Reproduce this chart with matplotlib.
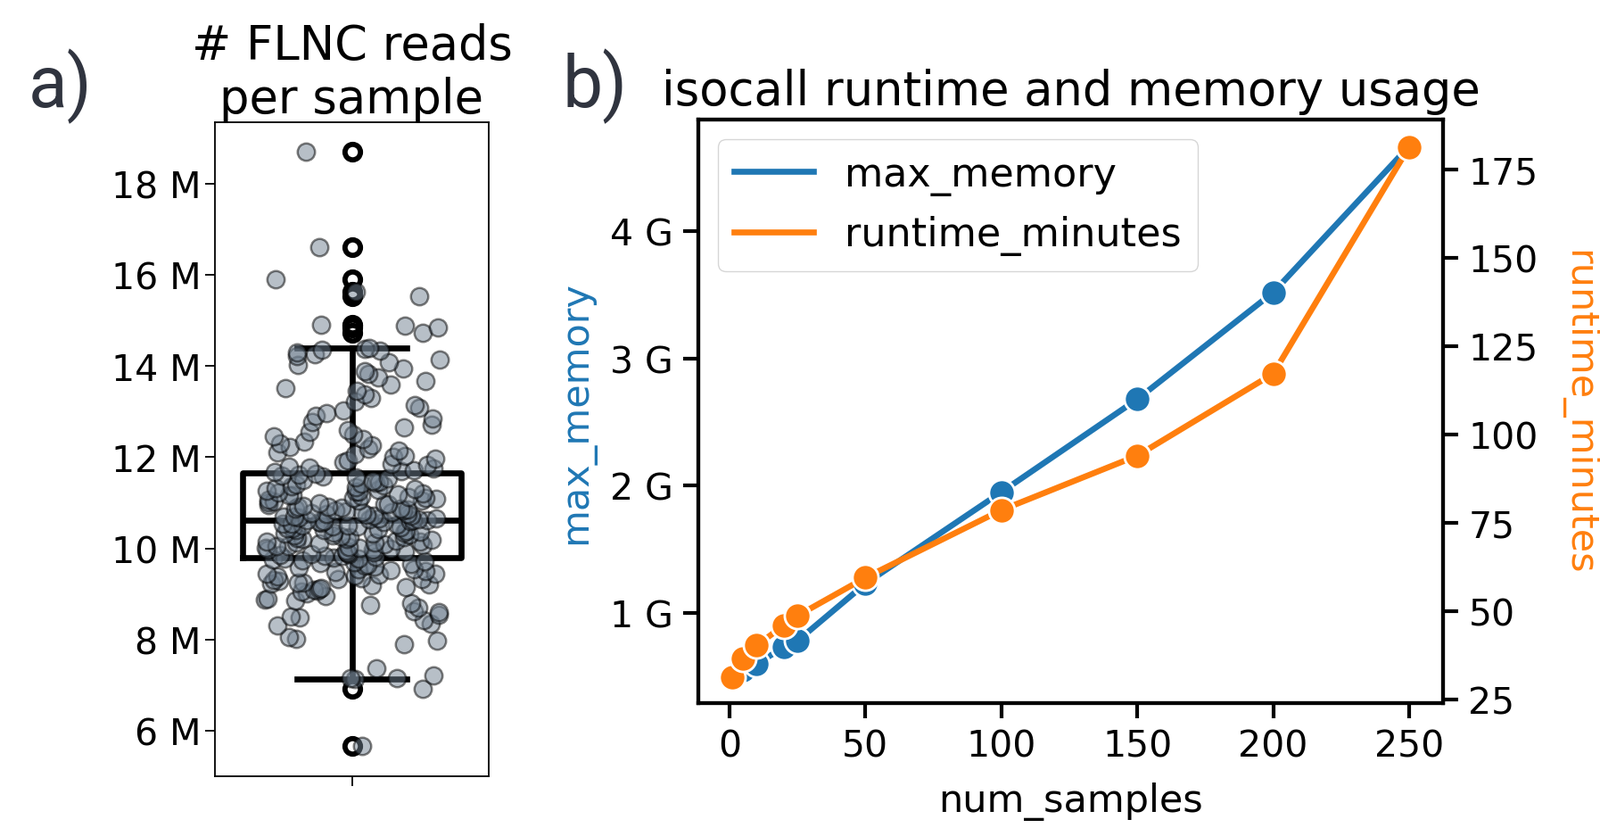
import matplotlib
matplotlib.use("Agg")
import matplotlib.pyplot as plt
import seaborn as sns
from matplotlib.ticker import EngFormatter
from matplotlib.lines import Line2D

# ---------------- data ----------------
# panel a: FLNC reads per sample (millions)
flnc_reads_m = [
    5.66, 6.92,
    7.13, 7.15, 7.16, 7.22, 7.37,
    7.9, 7.98, 8.02, 8.05, 8.3, 8.35, 8.42, 8.48, 8.5, 8.55, 8.6, 8.62, 8.7,
    8.75, 8.8, 8.85, 8.88, 8.9, 8.95,
    9.02, 9.05, 9.08, 9.1, 9.12, 9.13, 9.15, 9.18, 9.2, 9.22, 9.24, 9.25, 9.28,
    9.3, 9.32, 9.33, 9.35, 9.38, 9.4, 9.42, 9.44, 9.45, 9.48, 9.5, 9.52, 9.54,
    9.55, 9.58, 9.6, 9.62, 9.63, 9.65, 9.68, 9.7, 9.72, 9.73, 9.75, 9.77, 9.78,
    9.8, 9.81, 9.83, 9.84, 9.85, 9.87, 9.88, 9.9, 9.91, 9.92,
    9.94, 9.95, 9.97, 9.98, 10.0, 10.01, 10.02, 10.04, 10.05, 10.06,
    10.08, 10.09, 10.1, 10.12, 10.13, 10.14, 10.15, 10.17, 10.18, 10.2,
    10.21, 10.22, 10.24, 10.25, 10.26, 10.28, 10.29, 10.3, 10.32, 10.33,
    10.34, 10.35, 10.37, 10.38, 10.4, 10.41, 10.42, 10.44, 10.45, 10.46,
    10.48, 10.49, 10.5, 10.51, 10.52, 10.54, 10.55, 10.56, 10.57, 10.58,
    10.59, 10.6, 10.61, 10.615, 10.62,
    10.63, 10.64, 10.65, 10.66, 10.68, 10.69, 10.7, 10.71, 10.72, 10.74,
    10.75, 10.76, 10.78, 10.79, 10.8, 10.82, 10.83, 10.84, 10.86, 10.87,
    10.88, 10.9, 10.91, 10.92, 10.94, 10.95, 10.97, 10.98, 11.0, 11.01,
    11.03, 11.04, 11.05, 11.07, 11.08, 11.1, 11.11, 11.13, 11.14, 11.16,
    11.17, 11.19, 11.2, 11.22, 11.24, 11.25, 11.27, 11.29, 11.3, 11.32,
    11.34, 11.36, 11.38, 11.4, 11.42, 11.44, 11.46, 11.48, 11.5, 11.53,
    11.55, 11.58, 11.6, 11.62, 11.64,
    11.67, 11.7, 11.72, 11.75, 11.78, 11.8, 11.83, 11.86, 11.9, 11.93,
    11.96, 12.0, 12.03, 12.06, 12.1, 12.14, 12.18, 12.22, 12.26, 12.3,
    12.35, 12.4, 12.45, 12.5, 12.55, 12.6, 12.66, 12.72, 12.78, 12.85,
    12.9, 12.96, 13.02, 13.08, 13.15, 13.22, 13.3, 13.38, 13.45, 13.52,
    13.6, 13.68, 13.75, 13.82, 13.88, 13.95, 14.02, 14.08, 14.15, 14.22,
    14.26, 14.3, 14.34, 14.36, 14.38, 14.4,
    14.73, 14.85, 14.88, 14.9, 15.53, 15.64, 15.9, 16.6, 18.7,
]
flnc_reads = [v * 1e6 for v in flnc_reads_m]

# panel b: isocall runtime and memory
num_samples = [1, 5, 10, 20, 25, 50, 100, 150, 200, 250]
max_memory_gb = [0.50, 0.55, 0.60, 0.73, 0.78, 1.23, 1.95, 2.68, 3.52, 4.67]
runtime_minutes = [31.3, 36.6, 40.3, 46.0, 48.7, 59.5, 78.6, 94.0, 117.2, 181.4]
max_memory = [v * 1e9 for v in max_memory_gb]

BLUE = "#1f77b4"
ORANGE = "#ff7f0e"
W, H = 1794, 929

plt.rcParams["font.family"] = ["DejaVu Sans"]
fig = plt.figure(figsize=(W / 100, H / 100), dpi=100)

def frac(l, t, r, b):
    return [l / W, 1 - b / H, (r - l) / W, (b - t) / H]

# ---------------- panel a ----------------
axa = fig.add_axes(frac(241, 138, 548, 871))
LWB = 4.8
axa.boxplot(
    flnc_reads, positions=[0], widths=0.8, patch_artist=False,
    boxprops=dict(color="black", linewidth=LWB),
    whiskerprops=dict(color="black", linewidth=LWB),
    capprops=dict(color="black", linewidth=LWB),
    medianprops=dict(color="black", linewidth=LWB),
    flierprops=dict(marker="o", markerfacecolor="none", markeredgecolor="black",
                    markersize=12.5, markeredgewidth=4.2),
    zorder=2,
)
sns.stripplot(y=flnc_reads, ax=axa, jitter=0.32, color="slategray", alpha=0.5,
              edgecolor="black", linewidth=1.8, size=14, zorder=3)
axa.set_xlim(-0.5, 0.5)
axa.set_ylim(5.0e6, 19.35e6)
axa.set_xticks([0])
axa.set_xticklabels([""])
axa.set_yticks([6e6, 8e6, 10e6, 12e6, 14e6, 16e6, 18e6])
axa.yaxis.set_major_formatter(EngFormatter())
axa.tick_params(axis="both", labelsize=29.5, length=8, width=1.3, pad=3.0)
for s in axa.spines.values():
    s.set_linewidth(1.3)
axa.set_ylabel("")
axa.set_title("# FLNC reads\nper sample", fontsize=38, pad=5)

# ---------------- panel b ----------------
axb = fig.add_axes(frac(783, 135, 1618, 789))
LW = 4.8
MS = 21
axb.plot(num_samples, max_memory, color=BLUE, lw=LW, marker="o", ms=MS,
         mec="white", mew=2.0)
axb2 = axb.twinx()
axb2.plot(num_samples, runtime_minutes, color=ORANGE, lw=LW, marker="o", ms=MS,
          mec="white", mew=2.0)

axb.set_xlim(-11.45, 262.45)
axb.set_xticks([0, 50, 100, 150, 200, 250])
axb.set_ylim(0.291e9, 4.879e9)
axb.set_yticks([1e9, 2e9, 3e9, 4e9])
axb.yaxis.set_major_formatter(EngFormatter())
axb2.set_ylim(24.0, 189.1)
axb2.set_yticks([25, 50, 75, 100, 125, 150, 175])

for a in (axb, axb2):
    a.tick_params(axis="both", labelsize=29.5, length=12.5, width=3.0, pad=8)
    for s in a.spines.values():
        s.set_linewidth(3.0)

axb.set_xlabel("num_samples", fontsize=31, labelpad=14)
axb.set_ylabel("max_memory", fontsize=31, color=BLUE, labelpad=12)
axb2.set_ylabel("runtime_minutes", fontsize=31, color=ORANGE, rotation=270,
                va="bottom", labelpad=17)
axb.set_title("isocall runtime and memory usage", fontsize=38, pad=12)

handles = [Line2D([], [], color=BLUE, lw=LW), Line2D([], [], color=ORANGE, lw=LW)]
axb2.legend(handles, ["max_memory", "runtime_minutes"], loc="upper left",
            fontsize=32, handlelength=2.0, fancybox=True, edgecolor="0.8")

# ---------------- panel letters ----------------
fig.text(32 / W, 1 - 120 / H, "a)", fontsize=58, family="Roboto",
         color="#30343f", ha="left", va="baseline")
fig.text(630 / W, 1 - 120 / H, "b)", fontsize=58, family="Roboto",
         color="#30343f", ha="left", va="baseline")

fig.savefig("out.png", dpi=100)
